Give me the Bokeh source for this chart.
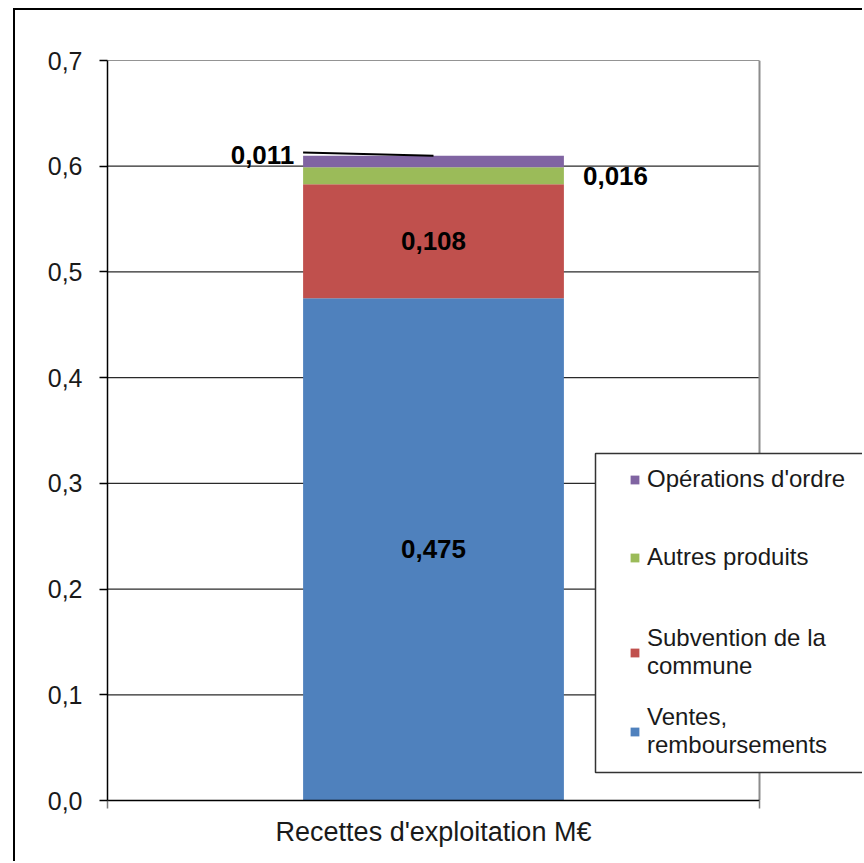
from bokeh.plotting import figure
from bokeh.models import (Range1d, LinearAxis, FixedTicker, CustomJSTickFormatter,
                          Legend, LegendItem, BoxAnnotation, ColumnDataSource)
from bokeh.core.properties import value
from bokeh.embed import file_html
from bokeh.resources import INLINE

# ---- data ----
categories = ["Recettes d'exploitation M€"]
series_keys = ["ventes", "subvention", "autres", "operations"]
series_labels = ["Ventes,\nremboursements", "Subvention de la\ncommune", "Autres produits", "Opérations d'ordre"]
ventes = [0.475]
subvention = [0.108]
autres = [0.016]
operations = [0.011]
y_ticks = [0.0, 0.1, 0.2, 0.3, 0.4, 0.5, 0.6, 0.7]

colors = ["#4F81BD", "#C0504D", "#9BBB59", "#8064A2"]
FONT = "Liberation Sans"

n = len(categories)
cat_pos = [i + 0.5 for i in range(n)]
source = ColumnDataSource(dict(x=cat_pos, cat=categories, ventes=ventes, subvention=subvention,
                               autres=autres, operations=operations))

# frame: x 107..864 (plot area 107..759 holds the category), y 60..800
p = figure(width=849, height=853, x_range=Range1d(0, n * 757 / 652),
           y_range=Range1d(y_ticks[0], y_ticks[-1]), x_axis_location=None,
           output_backend="svg", toolbar_location=None,
           min_border_left=92, min_border_right=0, min_border_top=50, min_border_bottom=63,
           margin=(8, 0, 0, 13),
           styles={"border-left": "2px solid black", "border-top": "2px solid black"})
p.outline_line_color = None
p.background_fill_color = "white"
p.border_fill_color = "white"
p.ygrid.visible = False
p.xgrid.visible = False

# gridlines across the plot area only, then the plot-area right edge
p.segment(x0=[0] * len(y_ticks), x1=[n] * len(y_ticks), y0=y_ticks, y1=y_ticks,
          line_color="#2a2a2a", line_width=1.2)
p.segment(x0=[n], x1=[n], y0=[y_ticks[0]], y1=[y_ticks[-1]], line_color="#8c8c8c", line_width=2)

renderers = p.vbar_stack(series_keys, x="x", width=0.4, color=colors, line_color=None, source=source)

# y axis
yax = p.yaxis[0]
yax.ticker = FixedTicker(ticks=y_ticks, minor_ticks=[])
yax.formatter = CustomJSTickFormatter(code="return tick.toFixed(1).replace('.', ',');")
yax.major_label_text_font = FONT
yax.major_label_text_font_size = "25px"
yax.major_label_text_color = "#1a1a1a"
yax.major_label_standoff = 17
yax.major_tick_out = 8
yax.major_tick_in = 0
yax.minor_tick_out = 0
yax.minor_tick_in = 0
yax.axis_line_color = "black"
yax.axis_line_width = 1.5
yax.major_tick_line_color = "black"
yax.major_tick_line_width = 1.5

# bottom axis: category name as label, boundary ticks as minor ticks
xax = LinearAxis(ticker=FixedTicker(ticks=cat_pos, minor_ticks=list(range(n + 1))),
                 bounds=(0, n),
                 major_label_overrides={pos: c for pos, c in zip(cat_pos, categories)})
xax.major_label_text_font = FONT
xax.major_label_text_font_size = "27px"
xax.major_label_text_color = "#1a1a1a"
xax.major_label_standoff = 8
xax.major_tick_out = 0
xax.major_tick_in = 0
xax.minor_tick_out = 8
xax.minor_tick_in = 0
xax.minor_tick_line_color = "#7a7a7a"
xax.minor_tick_line_width = 1.5
xax.axis_line_color = "black"
xax.axis_line_width = 1.5
p.add_layout(xax, "below")

# data labels
vals = [ventes[0], subvention[0], autres[0], operations[0]]
bottoms = [sum(vals[:i]) for i in range(len(vals))]
label_y = [b + v / 2 for b, v in zip(bottoms, vals)]
label_txt = [f"{v:.3f}".replace(".", ",") for v in vals]
x_off = [0, 0, 182, -171]
y_off = [0, 0, 0, -6]
p.text(x=[cat_pos[0]] * 4, y=label_y, text=label_txt, x_offset=x_off, y_offset=y_off,
       text_font=value(FONT), text_font_size="26px", text_font_style="bold",
       text_align="center", text_baseline="middle", text_color="black")

total = sum(vals)
p.segment(x0=[cat_pos[0] - 0.2], y0=[total + 0.003], x1=[cat_pos[0]], y1=[total],
          line_color="black", line_width=2)

# legend box (frame-relative screen units, y measured up from frame bottom)
box = BoxAnnotation(left=488, right=800, top=347, bottom=28,
                    left_units="screen", right_units="screen", top_units="screen", bottom_units="screen",
                    fill_color="white", fill_alpha=1.0, line_color="#333333", line_alpha=1.0,
                    line_width=1.5)
p.add_layout(box)

items = [LegendItem(label=lab, renderers=[r]) for lab, r in zip(series_labels, renderers)][::-1]
legend_style = dict(orientation="vertical", border_line_color=None, background_fill_alpha=0,
                    label_text_font=FONT, label_text_font_size="24px", label_text_color="#1a1a1a",
                    glyph_width=11, glyph_height=11, label_standoff=7, padding=0)
legend_top = Legend(items=items[:2], location=(522, 229), spacing=50, **legend_style)
legend_bottom = Legend(items=items[2:], location=(522, 41), spacing=23, **legend_style)
p.add_layout(legend_top, "center")
p.add_layout(legend_bottom, "center")

open("out.html", "w").write(file_html(p, INLINE))
